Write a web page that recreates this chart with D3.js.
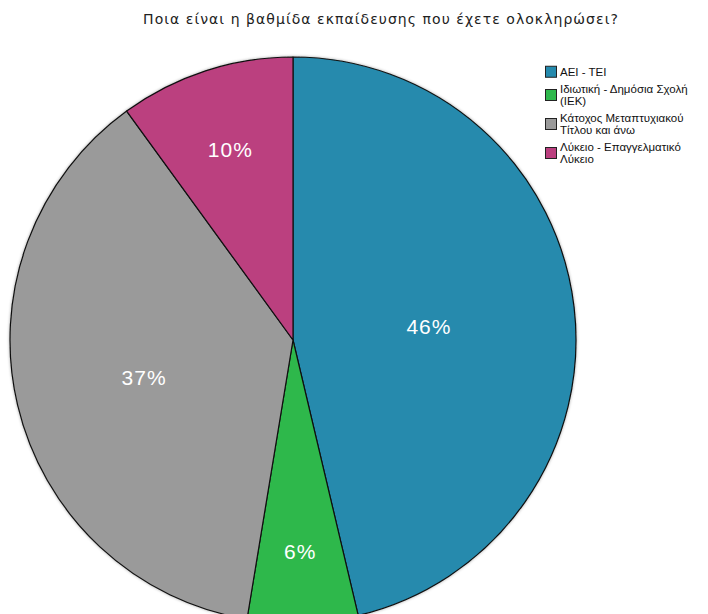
<!DOCTYPE html>
<html>
<head>
<meta charset="utf-8">
<script src="https://cdn.jsdelivr.net/npm/d3@7"></script>
<style>
  html, body { margin: 0; padding: 0; background: #ffffff; }
  svg { display: block; }
</style>
</head>
<body>
<svg id="chart" width="708" height="614"></svg>
<script>
// Survey: highest completed level of education
const title = "Ποια είναι η βαθμίδα εκπαίδευσης που έχετε ολοκληρώσει?";
const categories = [
  "ΑΕΙ - ΤΕΙ",
  "Ιδιωτική - Δημόσια Σχολή (ΙΕΚ)",
  "Κάτοχος Μεταπτυχιακού Τίτλου και άνω",
  "Λύκειο - Επαγγελματικό Λύκειο"
];
const legendLines = [
  ["ΑΕΙ - ΤΕΙ"],
  ["Ιδιωτική - Δημόσια Σχολή", "(ΙΕΚ)"],
  ["Κάτοχος Μεταπτυχιακού", "Τίτλου και άνω"],
  ["Λύκειο - Επαγγελματικό", "Λύκειο"]
];
const values = [46.3, 6.3, 37.4, 10.0];
const colors = ["#258aad", "#2eb84c", "#9a9a9a", "#bb3f7f"];

const svg = d3.select("#chart");
const cx = 293, cy = 340, R = 283;

// soft shadow around the pie
const defs = svg.append("defs");
const f = defs.append("filter").attr("id", "shadow")
  .attr("x", "-10%").attr("y", "-10%").attr("width", "120%").attr("height", "120%");
f.append("feDropShadow").attr("dx", 0).attr("dy", 0)
  .attr("stdDeviation", 1.5).attr("flood-color", "#000").attr("flood-opacity", 0.35);

svg.append("text")
  .attr("x", 381).attr("y", 24)
  .attr("text-anchor", "middle")
  .attr("font-family", "DejaVu Sans, sans-serif")
  .attr("font-size", 14)
  .attr("letter-spacing", 1.05)
  .attr("fill", "#222")
  .text(title);

const total = d3.sum(values);
const pie = d3.pie().sort(null).value(d => d)(values);
const arc = d3.arc().innerRadius(0).outerRadius(R);

const g = svg.append("g").attr("transform", `translate(${cx},${cy})`);

g.append("g").attr("filter", "url(#shadow)")
  .selectAll("path")
  .data(pie)
  .join("path")
  .attr("d", arc)
  .attr("fill", (d, i) => colors[i])
  .attr("stroke", "#111")
  .attr("stroke-width", 1.2)
  .attr("stroke-linejoin", "round");

// percentage labels; narrow slices get their label pushed toward the rim
g.selectAll("text.pct")
  .data(pie)
  .join("text")
  .attr("class", "pct")
  .attr("transform", d => {
    const sweep = d.endAngle - d.startAngle;
    const mid = (d.startAngle + d.endAngle) / 2;
    const r = R * (0.78 - 0.32 * sweep / Math.PI);
    return `translate(${r * Math.sin(mid)},${-r * Math.cos(mid) + 2})`;
  })
  .attr("text-anchor", "middle")
  .attr("dominant-baseline", "central")
  .attr("font-family", "Liberation Sans, Arial, sans-serif")
  .attr("font-size", 21)
  .attr("letter-spacing", 1)
  .attr("fill", "#ffffff")
  .text(d => Math.round(d.value / total * 100) + "%");

// legend
const lineH = 11.5, gap = 6;
const legend = svg.append("g").attr("transform", "translate(545,66)");
let yPos = 0;
legendLines.forEach((lines, i) => {
  const h = lines.length * lineH;
  const item = legend.append("g").attr("transform", `translate(0,${yPos})`);
  item.append("rect")
    .attr("x", 0.5).attr("y", h / 2 - 5.5)
    .attr("width", 11).attr("height", 11)
    .attr("fill", colors[i])
    .attr("stroke", "#222").attr("stroke-width", 1);
  lines.forEach((t, j) => {
    item.append("text")
      .attr("x", 15).attr("y", j * lineH + lineH / 2)
      .attr("dominant-baseline", "central")
      .attr("font-family", "Liberation Sans, Arial, sans-serif")
      .attr("font-size", 11.5)
      .attr("fill", "#111")
      .text(t);
  });
  yPos += h + gap;
});
</script>
</body>
</html>
